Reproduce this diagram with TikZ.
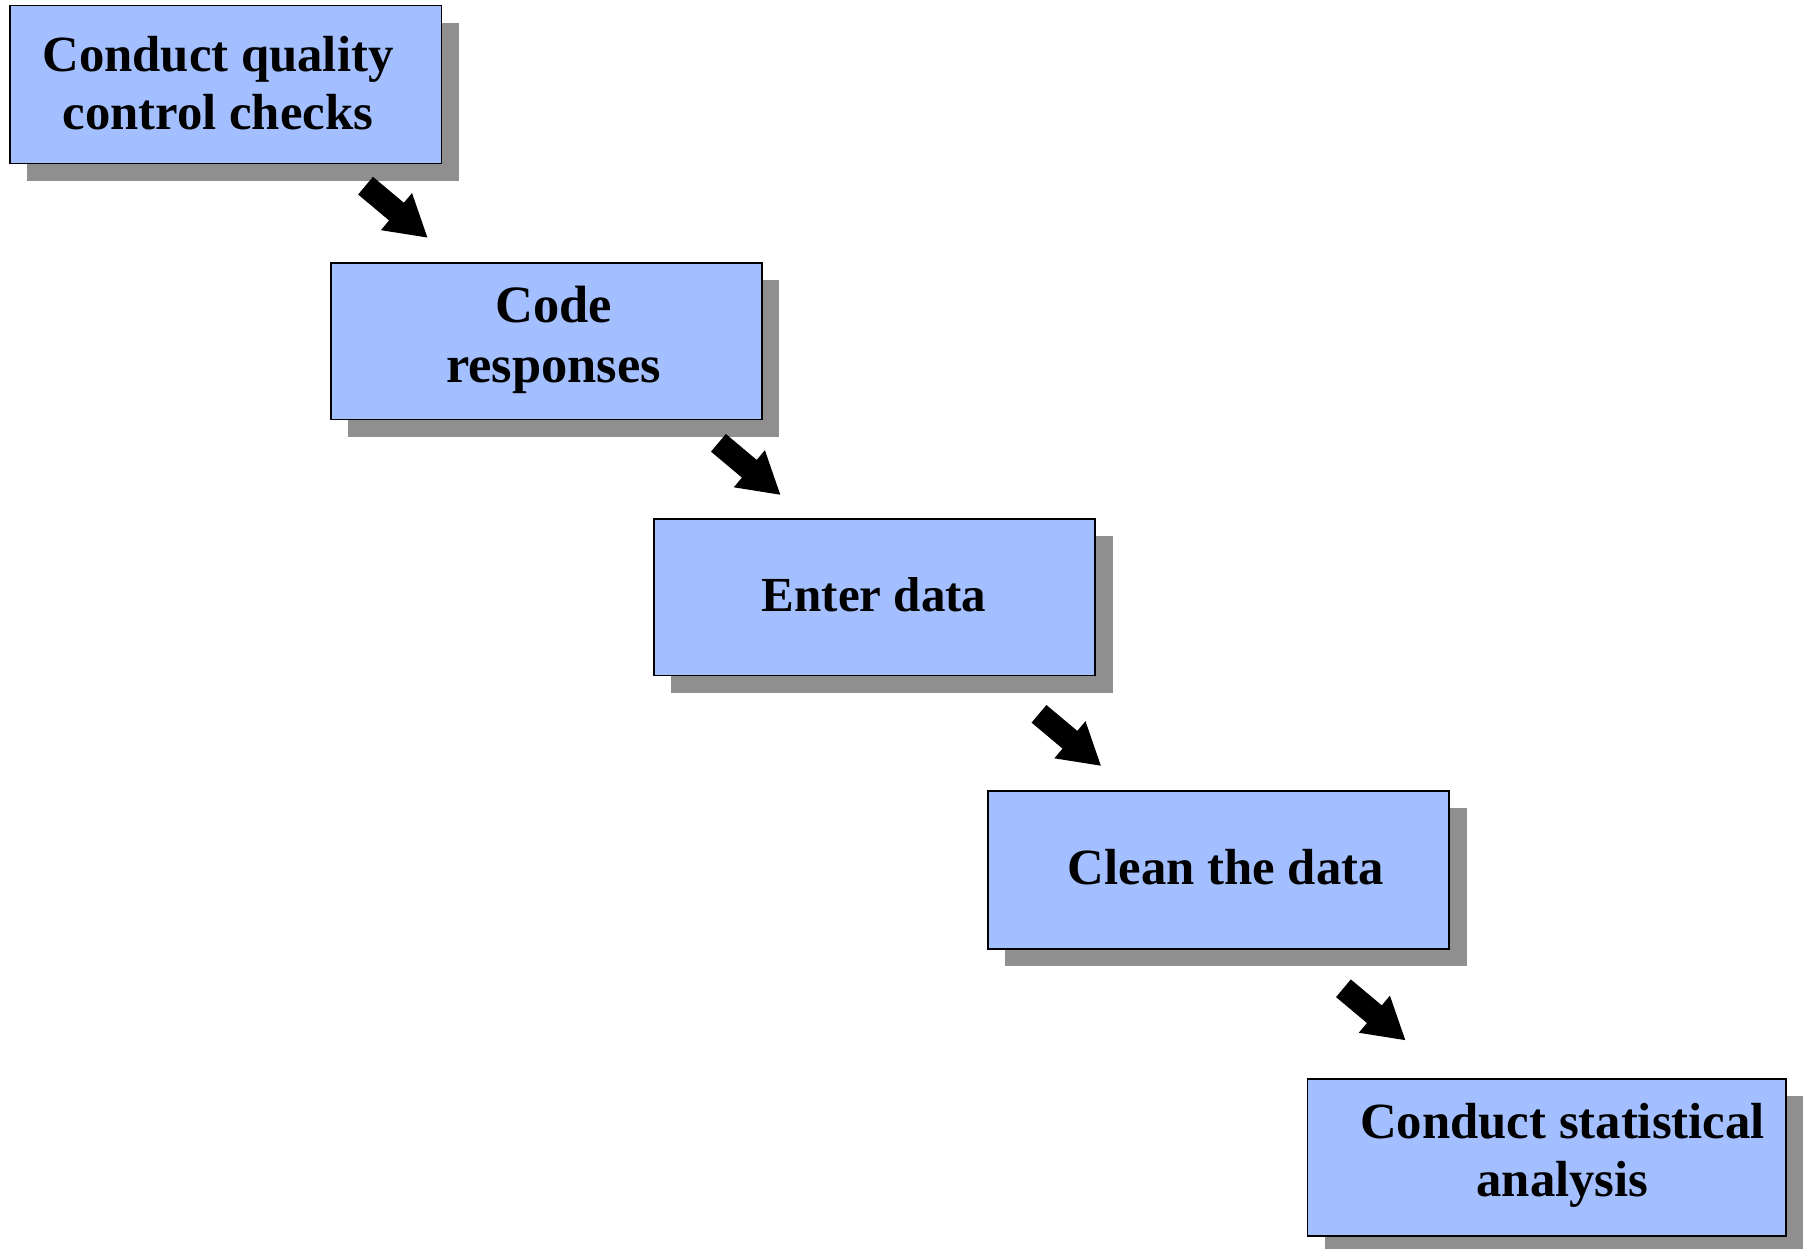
\documentclass[tikz,border=0pt]{standalone}
\usepackage{fontspec}
\setmainfont{Liberation Serif}
\usetikzlibrary{shadows}
\definecolor{boxblue}{RGB}{163,191,255}
\definecolor{shadowgray}{RGB}{143,143,143}
\begin{document}
\begin{tikzpicture}[x=1pt,y=-1pt,
  stepbox/.style={draw=black, line width=1.6pt, fill=boxblue, inner sep=0pt, anchor=north west,
    drop shadow={shadow xshift=15pt, shadow yshift=-15pt, fill=shadowgray, opacity=1}},
  steptext/.style={align=center, inner sep=0pt, font=\fontsize{44}{50}\selectfont\bfseries}]
\useasboundingbox (0,0) rectangle (1567,1083);
% boxes
\node[stepbox, minimum width=374pt, minimum height=137pt] (b1) at (8,4) {};
\node[stepbox, minimum width=374pt, minimum height=136pt] (b2) at (286,227) {};
\node[stepbox, minimum width=383pt, minimum height=136pt] (b3) at (566,449) {};
\node[stepbox, minimum width=400pt, minimum height=137pt] (b4) at (856,685) {};
\node[stepbox, minimum width=415pt, minimum height=136pt] (b5) at (1133,935) {};
% texts
\node[steptext] (t1) at (189,72) {Conduct quality\\control checks};
\node[steptext, font=\fontsize{45.5}{52}\selectfont\bfseries] (t2) at (480,295) {Code\\responses};
\node[steptext, font=\fontsize{42.5}{50}\selectfont\bfseries] (t3) at (758,516) {Enter data};
\node[steptext] (t4) at (1063,752) {Clean the data};
\node[steptext] (t5) at (1355,1002) {Conduct statistical\\analysis};
% block arrows
\coordinate (a1) at (317,161);
\coordinate (a2) at (623,384);
\coordinate (a3) at (901,619);
\coordinate (a4) at (1165,857);
\foreach \c in {a1,a2,a3,a4}{
  \fill[black, shift={(\c)}, rotate=-40]
    (0,-10) -- (35,-10) -- (35,-21) -- (70,0) -- (35,21) -- (35,10) -- (0,10) -- cycle;
}
\end{tikzpicture}
\end{document}
